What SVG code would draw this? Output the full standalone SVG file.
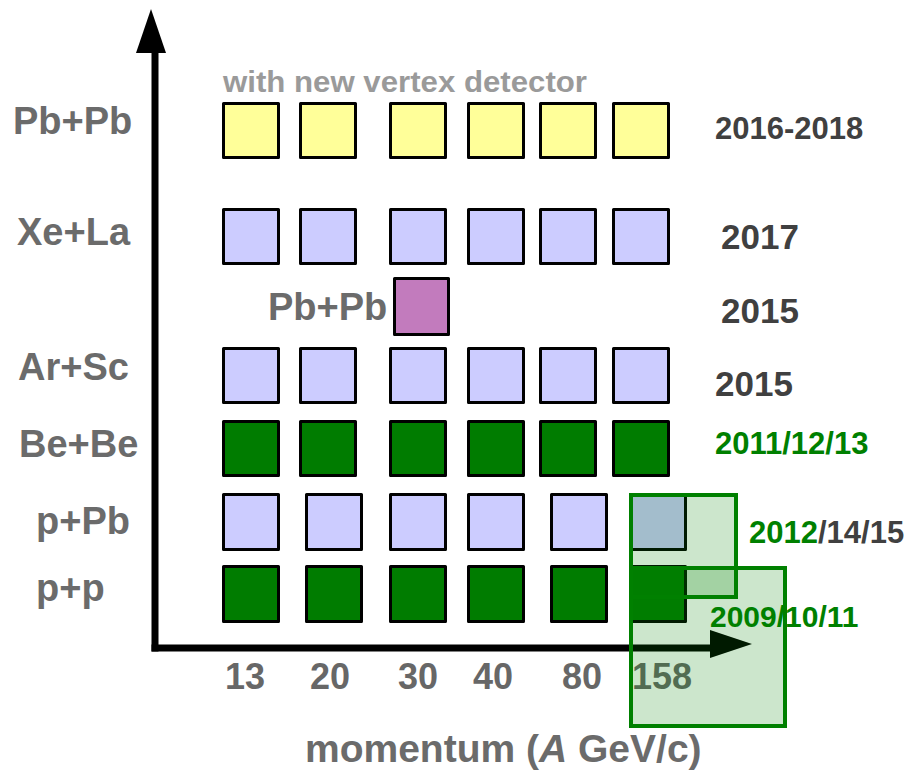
<svg xmlns="http://www.w3.org/2000/svg" width="908" height="771" viewBox="0 0 908 771">
<style>
text{font-family:"Liberation Sans",Arial,sans-serif;font-weight:bold}
.lbl{font-size:38px;fill:#6b6b6b}
.num{font-size:36px;fill:#676767}
.yr{fill:#404040}
.gr{fill:#008000}
.b{stroke:#000;stroke-width:3;stroke-linejoin:round}
.y{fill:#ffff99}
.l{fill:#ccccff}
.g{fill:#007c00}
.m{fill:#c27bbd}
.ov{fill:#008000;fill-opacity:0.2;stroke:#008000;stroke-width:4}
</style>
<rect width="908" height="771" fill="#fff"/>
<g id="connectors">
<line x1="155" y1="50" x2="155" y2="651.5" stroke="#000" stroke-width="7"/>
<polygon points="136,53 166,53 151,9" fill="#000"/>
<line x1="151.5" y1="648" x2="712" y2="648" stroke="#000" stroke-width="7"/>
<polygon points="710,630 710,658 752,644" fill="#000"/>
</g>
<g id="axis-labels">
<text class="num" x="225" y="689">13</text>
<text class="num" x="310" y="689">20</text>
<text class="num" x="398" y="689">30</text>
<text class="num" x="473" y="689">40</text>
<text class="num" x="562" y="689">80</text>
<text class="num" x="632" y="689">158</text>
<text class="lbl" x="305" y="762" style="font-size:39px">momentum (<tspan font-style="italic">A</tspan> GeV/c)</text>
</g>
<g id="row-pbpb">
<text class="lbl" x="13" y="134">Pb+Pb</text>
<text x="223" y="92" style="font-size:30px;fill:#9a9a9a" textLength="364" lengthAdjust="spacingAndGlyphs">with new vertex detector</text>
<rect class="b y" x="223.5" y="103.5" width="55" height="54"/>
<rect class="b y" x="300.5" y="103.5" width="55" height="54"/>
<rect class="b y" x="390.5" y="103.5" width="55" height="54"/>
<rect class="b y" x="468.5" y="103.5" width="55" height="54"/>
<rect class="b y" x="540.5" y="103.5" width="55" height="54"/>
<rect class="b y" x="613.5" y="103.5" width="55" height="54"/>
<text class="yr" x="715" y="139" style="font-size:31px">2016-2018</text>
</g>
<g id="row-xela">
<text class="lbl" x="17" y="245">Xe+La</text>
<rect class="b l" x="223.5" y="209.5" width="55" height="54"/>
<rect class="b l" x="300.5" y="209.5" width="55" height="54"/>
<rect class="b l" x="390.5" y="209.5" width="55" height="54"/>
<rect class="b l" x="468.5" y="209.5" width="55" height="54"/>
<rect class="b l" x="540.5" y="209.5" width="55" height="54"/>
<rect class="b l" x="613.5" y="209.5" width="55" height="54"/>
<text class="yr" x="721" y="249" style="font-size:35px">2017</text>
</g>
<g id="row-pbpb-2015">
<text class="lbl" x="268" y="320">Pb+Pb</text>
<rect class="b m" x="394.5" y="278.5" width="54" height="56"/>
<text class="yr" x="721" y="323" style="font-size:35px">2015</text>
</g>
<g id="row-arsc">
<text class="lbl" x="18" y="380">Ar+Sc</text>
<rect class="b l" x="223.5" y="348.5" width="55" height="54"/>
<rect class="b l" x="300.5" y="348.5" width="55" height="54"/>
<rect class="b l" x="390.5" y="348.5" width="55" height="54"/>
<rect class="b l" x="468.5" y="348.5" width="55" height="54"/>
<rect class="b l" x="540.5" y="348.5" width="55" height="54"/>
<rect class="b l" x="613.5" y="348.5" width="55" height="54"/>
<text class="yr" x="715" y="396" style="font-size:35px">2015</text>
</g>
<g id="row-bebe">
<text class="lbl" x="19" y="457">Be+Be</text>
<rect class="b g" x="223.5" y="421.5" width="55" height="54"/>
<rect class="b g" x="300.5" y="421.5" width="55" height="54"/>
<rect class="b g" x="390.5" y="421.5" width="55" height="54"/>
<rect class="b g" x="468.5" y="421.5" width="55" height="54"/>
<rect class="b g" x="540.5" y="421.5" width="55" height="54"/>
<rect class="b g" x="613.5" y="421.5" width="55" height="54"/>
<text class="gr" x="715" y="454" style="font-size:31px">2011/12/13</text>
</g>
<g id="row-ppb">
<text class="lbl" x="36" y="534">p+Pb</text>
<rect class="b l" x="223.5" y="494.5" width="55" height="55"/>
<rect class="b l" x="306.5" y="494.5" width="55" height="55"/>
<rect class="b l" x="390.5" y="494.5" width="55" height="55"/>
<rect class="b l" x="468.5" y="494.5" width="55" height="55"/>
<rect class="b l" x="551.5" y="494.5" width="55" height="55"/>
<rect class="b l" x="630.5" y="494.5" width="55" height="55"/>
</g>
<g id="row-pp">
<text class="lbl" x="36" y="601">p+p</text>
<rect class="b g" x="223.5" y="566.5" width="55" height="55"/>
<rect class="b g" x="306.5" y="566.5" width="55" height="55"/>
<rect class="b g" x="390.5" y="566.5" width="55" height="55"/>
<rect class="b g" x="468.5" y="566.5" width="55" height="55"/>
<rect class="b g" x="551.5" y="566.5" width="55" height="55"/>
<rect class="b g" x="630.5" y="566.5" width="55" height="55"/>
</g>
<g id="overlay-ppb">
<rect class="ov" x="631" y="495" width="105" height="102"/>
<text x="749" y="543" style="font-size:31px"><tspan class="gr">2012</tspan><tspan class="yr">/14/15</tspan></text>
</g>
<g id="overlay-pp">
<rect class="ov" x="631" y="568" width="154" height="158"/>
<text class="gr" x="710" y="627" style="font-size:30px">2009/10/11</text>
</g>
</svg>
